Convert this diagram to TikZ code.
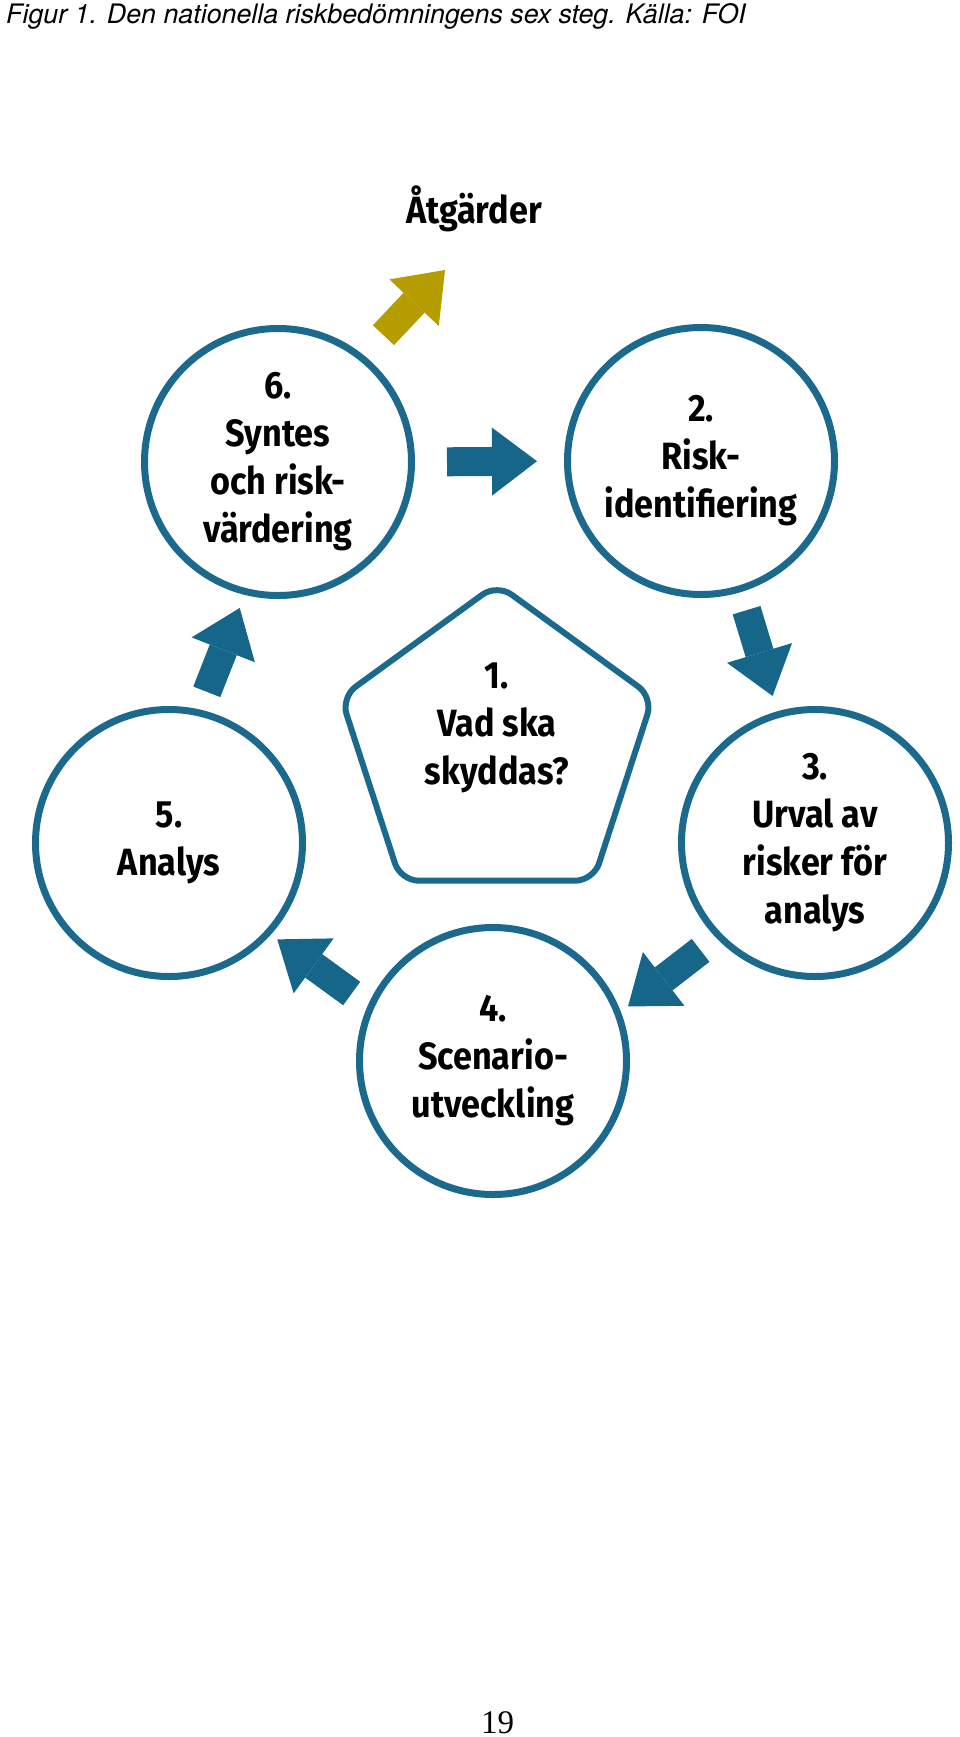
\documentclass[tikz,border=0pt]{standalone}
\usepackage{fontspec}
\setmainfont{Liberation Serif}
\newfontfamily\stepfont{Fira Sans}[FakeStretch=0.9]
\newfontfamily\capfont{TeX Gyre Heros}
\usetikzlibrary{arrows.meta}
\usetikzlibrary{positioning}
\usetikzlibrary{shapes.geometric}

\definecolor{stepblue}{RGB}{27,106,142}
\definecolor{arrowblue}{RGB}{22,102,138}
\definecolor{actgold}{RGB}{181,157,0}

\tikzset{
  steptext/.style={align=center, inner sep=0pt,
    font=\stepfont\bfseries\fontsize{38pt}{48pt}\selectfont},
  stepcircle/.style={steptext, circle, draw=stepblue, line width=7pt, minimum size=267pt},
  pentabox/.style={regular polygon, regular polygon sides=5, draw=stepblue, line width=6pt,
    minimum size=328pt, rounded corners=18pt, inner sep=0pt},
  flow/.style={draw=arrowblue, line width=29pt,
    -{Triangle[length=45pt, width=68pt, line width=0pt]}},
}

\begin{document}
\begin{tikzpicture}[x=1pt, y=-1pt]
  \useasboundingbox (0,0) rectangle (960,1737);
  \node[anchor=base west, inner sep=0pt, font=\capfont\itshape\fontsize{26.8pt}{32pt}\selectfont]
    (caption) at (6,24) {Figur 1. Den nationella riskbedömningens sex steg. Källa: FOI};

  \node[stepcircle] (s6) at (278,462)  {6.\\Syntes\\och risk-\\värdering};
  \node[stepcircle] (s2) at (701,461)  {2.\\Risk-\\identifiering};
  \node[stepcircle] (s3) at (815,843)  {3.\\Urval av\\risker för\\analys};
  \node[stepcircle] (s4) at (493,1061) {4.\\Scenario-\\utveckling};
  \node[stepcircle] (s5) at (169,843)  {5.\\Analys};
  \node[pentabox]   (s1) at (497,748)  {};
  \node[steptext]   (t1) at (497,728)  {1.\\Vad ska\\skyddas?};

  \node[steptext, anchor=base] (act) at (474,223) {Åtgärder};
  \coordinate (acttip) at (445,270); % tip of the gold arrow

  \draw[flow, shorten <=32pt, shorten >=27pt] (s6.east) -- (s2.west);
  \draw[flow, shorten <=19pt, shorten >=16pt] (s2.287) -- (s3.106);
  \draw[flow, shorten <=20pt, shorten >=9pt]  (s3.224) -- (s4.21);
  \draw[flow, shorten <=20pt, shorten >=8pt]  (s4.156) -- (s5.318);
  \draw[flow, shorten <=19pt, shorten >=14pt] (s5.77)  -- (s6.256);
  \draw[flow, draw=actgold, shorten <=28pt]   (s6.51)  -- (acttip);

  \node[anchor=base, inner sep=0pt, font=\fontsize{33pt}{40pt}\selectfont]
    (pageno) at (497.5,1733) {19};
\end{tikzpicture}
\end{document}
